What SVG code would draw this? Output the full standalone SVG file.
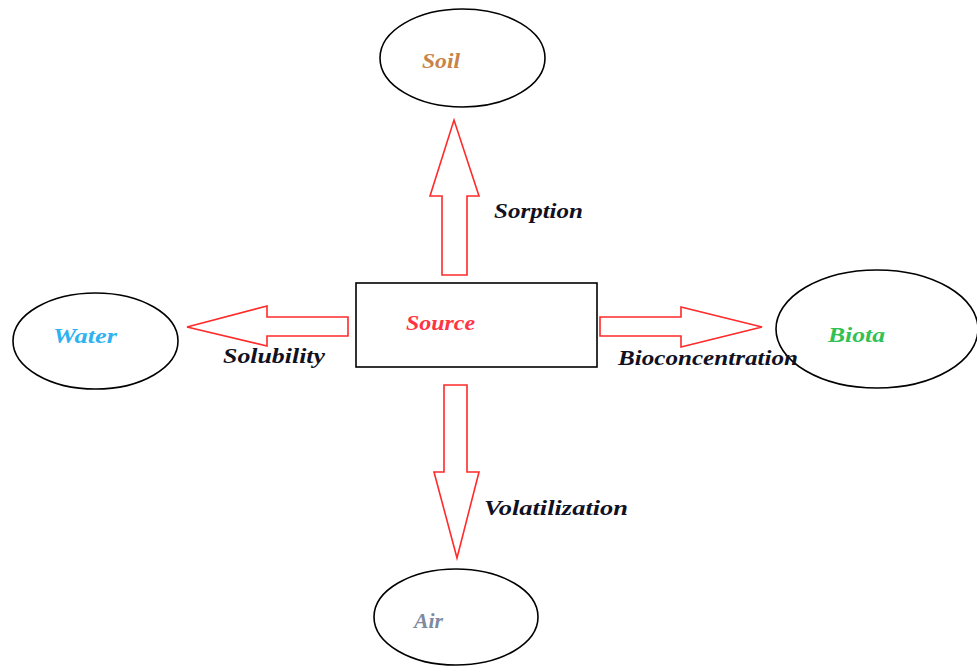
<svg xmlns="http://www.w3.org/2000/svg" width="977" height="666" viewBox="0 0 977 666">
<style>
.node{fill:none;stroke:#000;stroke-width:1.6}
.arrow{fill:#fff;stroke:#ff2a2a;stroke-width:1.6;stroke-linejoin:miter}
text{font-family:"Liberation Serif","DejaVu Serif",serif;font-weight:bold;font-style:italic;font-size:21px}
.lbl{fill:#111122}
</style>
<rect width="977" height="666" fill="#fff"/>
<g id="source">
<rect class="node" x="356" y="283" width="241" height="84"/>
<text x="406" y="330" fill="#ff3344" textLength="69" lengthAdjust="spacingAndGlyphs">Source</text>
</g>
<g id="soil">
<ellipse class="node" cx="462.5" cy="58" rx="82.5" ry="49"/>
<text x="422" y="68" fill="#c8834a" textLength="38" lengthAdjust="spacingAndGlyphs">Soil</text>
</g>
<g id="water">
<ellipse class="node" cx="95.5" cy="341" rx="82.5" ry="48"/>
<text x="53" y="343" fill="#2fb2f2" textLength="64" lengthAdjust="spacingAndGlyphs">Water</text>
</g>
<g id="biota">
<ellipse class="node" cx="877" cy="329" rx="101" ry="59"/>
<text x="828" y="342" fill="#33c155" textLength="57" lengthAdjust="spacingAndGlyphs">Biota</text>
</g>
<g id="air">
<ellipse class="node" cx="456" cy="617" rx="82" ry="48"/>
<text x="414" y="628" fill="#7d8aa0" textLength="29" lengthAdjust="spacingAndGlyphs">Air</text>
</g>
<g id="connectors">
<polygon class="arrow" points="442,275 442,196 430,196 454,120 479,196 467,196 467,275"/>
<polygon class="arrow" points="348,317 267,317 267,306 187,327 267,346 267,336 348,336"/>
<polygon class="arrow" points="600,317 681,317 681,307 762,327 681,347 681,336 600,336"/>
<polygon class="arrow" points="444,385 467,385 467,472 479,472 457,558 434,472 444,472"/>
<text class="lbl" x="494" y="218" textLength="89" lengthAdjust="spacingAndGlyphs">Sorption</text>
<text class="lbl" x="223" y="363" textLength="102" lengthAdjust="spacingAndGlyphs">Solubility</text>
<text class="lbl" x="618" y="365" textLength="180" lengthAdjust="spacingAndGlyphs">Bioconcentration</text>
<text class="lbl" x="484" y="515" textLength="144" lengthAdjust="spacingAndGlyphs">Volatilization</text>
</g>
</svg>
